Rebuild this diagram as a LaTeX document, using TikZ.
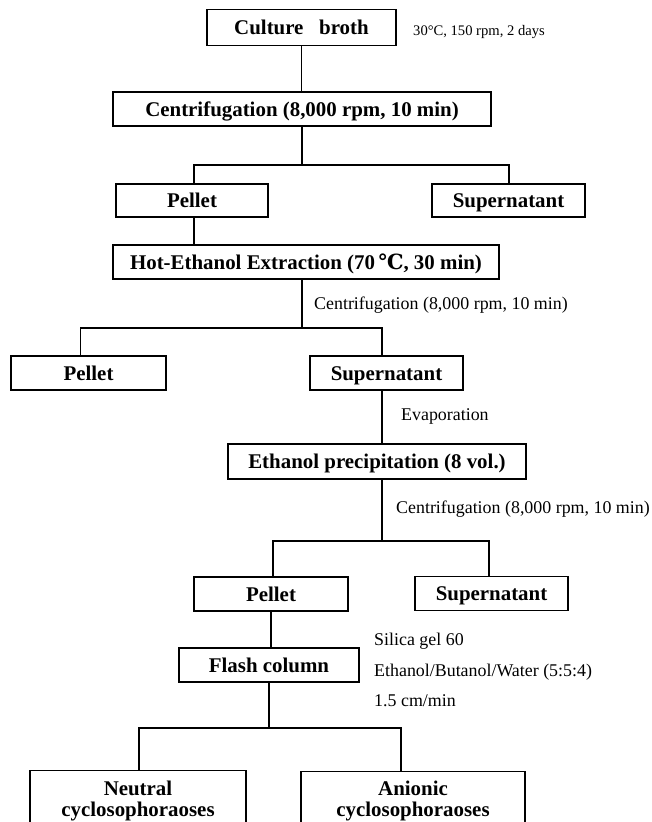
\documentclass[tikz,border=0pt]{standalone}
\usepackage{fontspec}
\setmainfont{Liberation Serif}
\newfontfamily\symfnt{DejaVu Serif}
\newcommand\boxfnt{\fontsize{20.9}{24}\selectfont\bfseries}
\newcommand\boxtwofnt{\fontsize{20.9}{21}\selectfont\bfseries}
\newcommand\lblfnt{\fontsize{17.9}{21}\selectfont}
\newcommand\smallfnt{\fontsize{14.6}{17}\selectfont}
\newcommand\celsiusc{{\symfnt\bfseries ℃}}
\tikzset{
  box/.style={draw, line width=1.3pt, inner sep=0pt, font=\boxfnt, text height=14pt, text depth=0pt},
  boxtwo/.style={draw, line width=1.3pt, inner sep=0pt, font=\boxtwofnt, align=center},
  lbl/.style={anchor=base west, inner sep=0pt, font=\lblfnt},
  conn/.style={line width=1.1pt}
}
\begin{document}
\begin{tikzpicture}[x=1pt,y=-1pt]
\useasboundingbox (0,0) rectangle (651,822);
\clip (0,0) rectangle (651,822);
% boxes
\node[box, minimum width=189, minimum height=36] (cb) at (301.5,27.8) {Culture\hspace{0.75em}broth};
\node[lbl, font=\smallfnt] (cbl) at (413,35) {30°C, 150 rpm, 2 days};
\node[box, minimum width=378, minimum height=34] (c1) at (302,109) {Centrifugation (8,000 rpm, 10 min)};
\node[box, minimum width=152, minimum height=33] (p1) at (192,200.5) {Pellet};
\node[box, minimum width=153, minimum height=33] (s1) at (508.5,200.5) {Supernatant};
\node[box, minimum width=386, minimum height=34] (he) at (306,262) {Hot-Ethanol Extraction (70\,\celsiusc, 30 min)};
\node[lbl] (l2) at (314,309) {Centrifugation (8,000 rpm, 10 min)};
\node[box, minimum width=155, minimum height=34] (p2) at (88.5,373) {Pellet};
\node[box, minimum width=153, minimum height=34] (s2) at (386.5,373) {Supernatant};
\node[lbl] (l3) at (401,420) {Evaporation};
\node[box, minimum width=298, minimum height=35] (ep) at (377,461.5) {Ethanol precipitation (8 vol.)};
\node[lbl] (l4) at (396,513) {Centrifugation (8,000 rpm, 10 min)};
\node[box, minimum width=154, minimum height=34] (p3) at (271,594) {Pellet};
\node[box, minimum width=153, minimum height=34] (s3) at (491.5,593.5) {Supernatant};
\node[box, minimum width=180, minimum height=34] (fc) at (269,665) {Flash column};
\node[lbl] (l5) at (374,645) {Silica gel 60};
\node[lbl] (l6) at (374,676) {Ethanol/Butanol/Water (5:5:4)};
\node[lbl] (l7) at (374,706) {1.5 cm/min};
\node[boxtwo, minimum width=216, minimum height=60, anchor=north] (nc) at (138,770) {Neutral\\cyclosophoraoses};
\node[boxtwo, minimum width=224, minimum height=60, anchor=north] (ac) at (413,770.5) {Anionic\\cyclosophoraoses};
% junction coordinates
\coordinate (t1l) at (194,165);
\coordinate (t1r) at (509,165);
\coordinate (t2l) at (80.5,328);
\coordinate (t2r) at (382,328);
\coordinate (t3l) at (273,541);
\coordinate (t3r) at (489,541);
\coordinate (t4l) at (139,728);
\coordinate (t4r) at (401,728);
% connectors
\draw[conn] (cb.south) -- (cb.south |- c1.north);
\draw[conn] (c1.south) -- (c1.south |- t1l);
\draw[conn] (t1l |- p1.north) -- (t1l) -- (t1r) -- (t1r |- s1.north);
\draw[conn] (t1l |- p1.south) -- (t1l |- he.north);
\draw[conn] (c1.south |- he.south) -- (c1.south |- t2l);
\draw[conn] (t2l |- p2.north) -- (t2l) -- (t2r) -- (t2r |- s2.north);
\draw[conn] (t2r |- s2.south) -- (t2r |- ep.north);
\draw[conn] (t2r |- ep.south) -- (t2r |- t3l);
\draw[conn] (t3l |- p3.north) -- (t3l) -- (t3r) -- (t3r |- s3.north);
\draw[conn] (p3.south) -- (p3.south |- fc.north);
\draw[conn] (fc.south) -- (fc.south |- t4l);
\draw[conn] (t4l |- nc.north) -- (t4l) -- (t4r) -- (t4r |- ac.north);
\end{tikzpicture}
\end{document}
